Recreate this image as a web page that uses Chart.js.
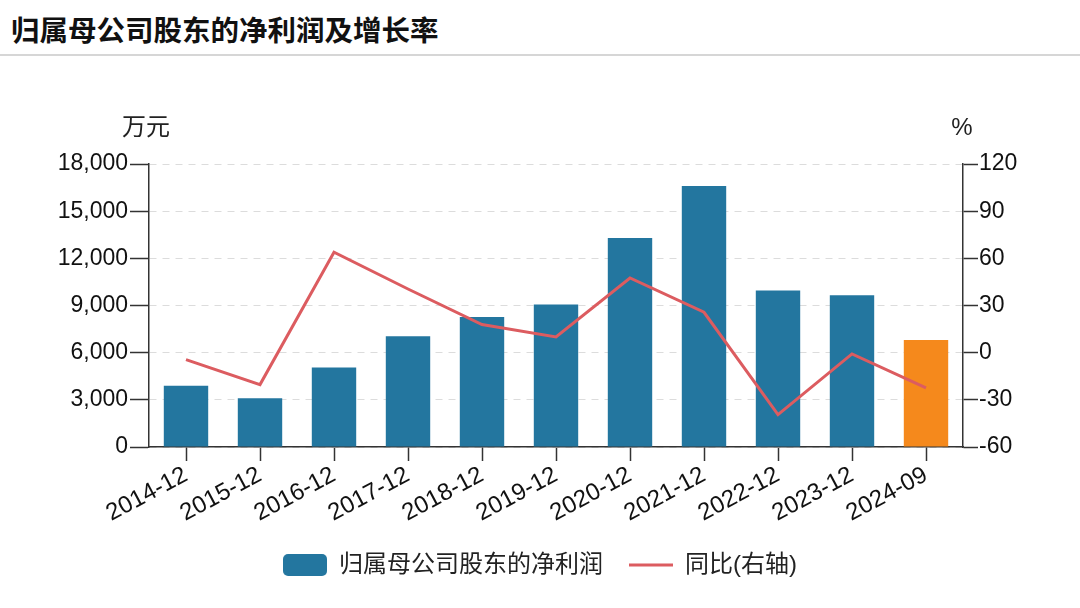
<!DOCTYPE html>
<html>
<head>
<meta charset="utf-8">
<script src="https://cdn.jsdelivr.net/npm/chart.js@4"></script>
<style>
body{margin:0;background:#fff;font-family:"Liberation Sans","Noto Sans CJK SC",sans-serif;}
#title{height:56px;border-bottom:2px solid #d6d6d6;font-size:28.5px;font-weight:bold;color:#111;line-height:57px;padding-left:11px;box-sizing:border-box;font-family:"Noto Sans CJK SC",sans-serif;}
#wrap{position:relative;width:1080px;height:552px;}
</style>
</head>
<body>
<div id="title">归属母公司股东的净利润及增长率</div>
<div id="wrap"><canvas id="chart" width="1080" height="552"></canvas></div>
<script>
// DATA
const periods=['2014-12','2015-12','2016-12','2017-12','2018-12','2019-12','2020-12','2021-12','2022-12','2023-12','2024-09'];
const profit=[3900,3100,5050,7050,8270,9060,13290,16600,9950,9650,6800];
const growth=[-4.4,-20.3,63.9,40.5,17.9,10.0,47.5,25.7,-39.4,-0.8,-22.4];
const leftTicks=[0,3000,6000,9000,12000,15000,18000];
const rightTicks=[-60,-30,0,30,60,90,120];

const BLUE='#23769f', ORANGE='#f5891c', RED='#dc5c60';
const font="'Liberation Sans','Noto Sans CJK SC',sans-serif";

// legend icons
function icon(draw){
  const c=document.createElement('canvas');c.width=44;c.height=22;
  draw(c.getContext('2d'));return c;
}
const barIcon=icon(g=>{g.fillStyle=BLUE;g.beginPath();g.roundRect(0,0,44,22,5);g.fill();});
const lineIcon=icon(g=>{g.strokeStyle=RED;g.lineWidth=3;g.beginPath();g.moveTo(0,11);g.lineTo(44,11);g.stroke();});

// unit labels
const units={
  id:'units',
  afterDraw(c){
    const g=c.ctx;
    g.save();g.fillStyle='#222';g.font="24px "+font;g.textBaseline='middle';
    g.textAlign='center';g.fillText('万元',146,72);
    g.fillText('%',962,72);
    g.restore();
  }
};

new Chart(document.getElementById('chart'),{
  data:{
    labels:periods,
    datasets:[
      {type:'line',label:'同比(右轴)',data:growth,yAxisID:'y1',borderColor:RED,backgroundColor:RED,borderWidth:3,pointRadius:0,tension:0,order:0},
      {type:'bar',label:'归属母公司股东的净利润',data:profit,yAxisID:'y',
       backgroundColor:profit.map((v,i)=>i==profit.length-1?ORANGE:BLUE),barPercentage:0.6,categoryPercentage:1,order:1}
    ]
  },
  plugins:[units],
  options:{
    responsive:false,animation:false,devicePixelRatio:1,
    layout:{padding:{top:108,left:0,right:0,bottom:21}},
    plugins:{
      tooltip:{enabled:false},
      legend:{
        position:'bottom',
        labels:{
          usePointStyle:true,pointStyleWidth:44,boxHeight:22,padding:26,color:'#222',
          font:{family:font,size:24},
          generateLabels(c){
            return [
              {text:'归属母公司股东的净利润',pointStyle:barIcon,datasetIndex:1,fillStyle:BLUE,strokeStyle:BLUE,lineWidth:0,fontColor:'#222'},
              {text:'同比(右轴)',pointStyle:lineIcon,datasetIndex:0,fillStyle:RED,strokeStyle:RED,lineWidth:0,fontColor:'#222'}
            ];
          }
        }
      }
    },
    scales:{
      x:{
        offset:true,
        grid:{drawOnChartArea:false,offset:false,tickLength:14,tickColor:'#333',tickWidth:1.5},
        border:{color:'#333',width:1.5},
        ticks:{color:'#111',font:{family:font,size:24},maxRotation:28,minRotation:28,padding:0},
        afterFit(s){s.height=80;}
      },
      y:{
        position:'left',min:0,max:18000,
        afterBuildTicks(s){s.ticks=leftTicks.map(v=>({value:v}));},
        grid:{color:'#dcdcdc',tickLength:19,tickColor:'#333',tickWidth:1.5,tickBorderDash:[]},
        border:{color:'#333',width:1.5,dash:[7,6]},
        ticks:{color:'#111',font:{family:font,size:23},padding:2,callback:v=>v.toLocaleString('en-US')},
        afterFit(s){s.width=149;}
      },
      y1:{
        position:'right',min:-60,max:120,
        afterBuildTicks(s){s.ticks=rightTicks.map(v=>({value:v}));},
        grid:{drawOnChartArea:false,tickLength:15,tickColor:'#333',tickWidth:1.5},
        border:{color:'#333',width:1.5},
        ticks:{color:'#111',font:{family:font,size:23},padding:1},
        afterFit(s){s.width=117;}
      }
    }
  }
});
</script>
</body>
</html>
